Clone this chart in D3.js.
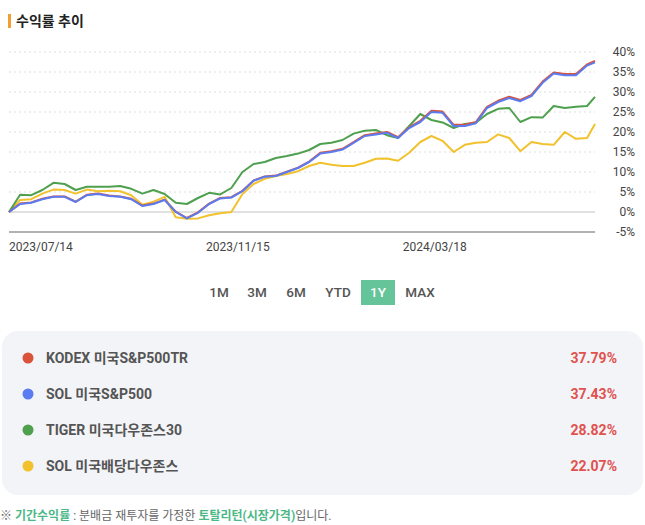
<!DOCTYPE html>
<html>
<head>
<meta charset="utf-8">
<script src="https://cdn.jsdelivr.net/npm/d3@7"></script>
<style>
  body { margin: 0; background: #fff; font-family: Roboto, "Noto Sans CJK KR", sans-serif; }
</style>
</head>
<body>
<svg id="chart" width="645" height="525"></svg>
<script>
// weekly sample dates
const dates = ["2023-07-14","2023-07-21","2023-07-28","2023-08-04","2023-08-11","2023-08-18","2023-08-25","2023-09-01","2023-09-08","2023-09-15","2023-09-22","2023-09-29","2023-10-06","2023-10-13","2023-10-20","2023-10-27","2023-11-03","2023-11-10","2023-11-17","2023-11-24","2023-12-01","2023-12-08","2023-12-15","2023-12-22","2023-12-29","2024-01-05","2024-01-12","2024-01-19","2024-01-26","2024-02-02","2024-02-09","2024-02-16","2024-02-23","2024-03-01","2024-03-08","2024-03-15","2024-03-22","2024-03-29","2024-04-05","2024-04-12","2024-04-19","2024-04-26","2024-05-03","2024-05-10","2024-05-17","2024-05-24","2024-05-31","2024-06-07","2024-06-14","2024-06-21","2024-06-28","2024-07-05","2024-07-12","2024-07-17"];

const kodex = [0,2.1,2.4,3.3,3.9,3.9,2.6,4.3,4.6,4.1,3.9,3.3,1.6,2.1,3.1,0.1,-1.5,-0.1,2.1,3.5,3.7,5.3,7.9,8.9,9.1,10.1,11.1,12.6,14.8,15.2,15.8,17.5,19.2,19.6,20,18.7,21.2,22.8,25.3,25.1,21.8,21.8,22.5,26.3,27.8,28.8,28,29.3,32.6,34.9,34.5,34.5,36.9,37.8];
const solSp = [0,2,2.3,3.2,3.8,3.8,2.5,4.2,4.5,4,3.8,3.2,1.5,2,3,0,-1.6,-0.2,2,3.4,3.6,5.2,7.8,8.8,9,10,11,12.5,14.6,15,15.6,17.3,19,19.4,19.8,18.5,21,22.5,25,24.8,21.5,21.5,22.2,26,27.5,28.5,27.7,29,32.3,34.6,34.2,34.2,36.6,37.4];
const tiger = [0,4.3,4.2,5.5,7.3,7,5.5,6.3,6.3,6.3,6.5,5.8,4.6,5.5,4.5,2.3,2,3.5,4.8,4.4,6,10,12,12.5,13.5,14,14.6,15.5,17,17.3,18,19.6,20.3,20.5,19.2,18.5,21.5,24.5,23,22.4,21,22,22.3,24.5,25.8,26,22.5,23.7,23.6,26.5,26,26.3,26.5,28.8];
const solDiv = [0,3,3.2,4.6,5.6,5.5,4.6,5.6,5.2,5.3,5.2,4.2,1.8,2.6,3.8,-1.3,-1.7,-1.6,-0.8,-0.3,0,4.5,7,8.3,9,9.5,10.2,11.5,12.3,11.8,11.5,11.5,12.3,13.3,13.4,12.8,14.8,17.5,19,17.8,15,16.8,17.3,17.5,19.4,18.5,15.2,17.5,17,16.8,20,18.3,18.5,22];

const names = ["KODEX 미국S&P500TR","SOL 미국S&P500","TIGER 미국다우존스30","SOL 미국배당다우존스"];
const colors = ["#d9533b","#5b7cf0","#4ea04e","#f2c12e"];
const returns = ["37.79%","37.43%","28.82%","22.07%"];
const yTicks = [-5,0,5,10,15,20,25,30,35,40];
const xTickDates = ["2023-07-14","2023-11-15","2024-03-18"];
const periods = ["1M","3M","6M","YTD","1Y","MAX"];

const parse = d3.timeParse("%Y-%m-%d");
const fmt = d3.timeFormat("%Y/%m/%d");
const svg = d3.select("#chart");

// title
svg.append("rect").attr("x", 8).attr("y", 14).attr("width", 3).attr("height", 14).attr("fill", "#f0a030");
svg.append("text").attr("x", 16).attr("y", 26).text("수익률 추이")
  .attr("font-size", 14).attr("font-weight", "bold").attr("fill", "#222");

const x = d3.scaleTime().domain(d3.extent(dates, parse)).range([9, 595]);
const y = d3.scaleLinear().domain([-5, 40]).range([232, 52]);

// grid
svg.append("g").selectAll("line").data(yTicks.filter(t => t > 0)).join("line")
  .attr("x1", 9).attr("x2", 595).attr("y1", d => y(d)).attr("y2", d => y(d))
  .attr("stroke", "#ddd").attr("stroke-dasharray", "2,3");
svg.append("line").attr("x1", 9).attr("x2", 595).attr("y1", y(0)).attr("y2", y(0))
  .attr("stroke", "#d6d6d6").attr("stroke-width", 1.5);
svg.append("line").attr("x1", 9).attr("x2", 595).attr("y1", y(-5)).attr("y2", y(-5))
  .attr("stroke", "#999").attr("stroke-width", 1.5);

// y labels
svg.append("g").selectAll("text").data(yTicks).join("text")
  .attr("x", 635).attr("y", d => y(d) + 4).attr("text-anchor", "end")
  .attr("font-size", 12).attr("fill", "#444").text(d => d + "%");

// x labels
svg.append("g").selectAll("text").data(xTickDates).join("text")
  .attr("x", d => x(parse(d))).attr("y", 251)
  .attr("font-size", 12).attr("fill", "#444").text(d => fmt(parse(d)));

// lines (yellow, green, red, blue on top)
const line = d3.line().x((d, i) => x(parse(dates[i]))).y(d => y(d));
const series = [kodex, solSp, tiger, solDiv];
[3, 2, 0, 1].forEach(k => {
  svg.append("path").datum(series[k]).attr("d", line)
    .attr("fill", "none").attr("stroke", colors[k]).attr("stroke-width", 2).attr("stroke-linejoin", "round");
});

// period buttons
const bx = [219, 257, 296, 338, 378, 420];
svg.append("rect").attr("x", 361).attr("y", 280).attr("width", 34).attr("height", 25).attr("fill", "#66c49a");
svg.append("g").selectAll("text").data(periods).join("text")
  .attr("x", (d, i) => bx[i]).attr("y", 297).attr("text-anchor", "middle")
  .attr("font-size", 13.5).attr("font-weight", 500)
  .attr("fill", d => d === "1Y" ? "#fff" : "#555").text(d => d);

// legend panel
svg.append("rect").attr("x", 2).attr("y", 331).attr("width", 641).attr("height", 164).attr("rx", 16)
  .attr("fill", "#f3f4f8");
const rows = svg.append("g").selectAll("g").data(names).join("g")
  .attr("transform", (d, i) => `translate(0,${358 + i * 36})`);
rows.append("circle").attr("cx", 28).attr("cy", 0).attr("r", 5.5).attr("fill", (d, i) => colors[i]);
rows.append("text").attr("x", 46).attr("y", 5).attr("font-size", 14).attr("font-weight", "bold")
  .attr("fill", "#555").text(d => d);
rows.append("text").attr("x", 617).attr("y", 5).attr("text-anchor", "end").attr("font-size", 14)
  .attr("font-weight", "bold").attr("fill", "#e0514f").text((d, i) => returns[i]);

// footnote
const foot = svg.append("text").attr("x", 0).attr("y", 520).attr("font-size", 12).attr("fill", "#666");
foot.append("tspan").text("※ ");
foot.append("tspan").attr("fill", "#4cb888").attr("font-weight", "bold").text("기간수익률");
foot.append("tspan").text(" : 분배금 재투자를 가정한 ");
foot.append("tspan").attr("fill", "#4cb888").attr("font-weight", "bold").text("토탈리턴(시장가격)");
foot.append("tspan").text("입니다.");
</script>
</body>
</html>
